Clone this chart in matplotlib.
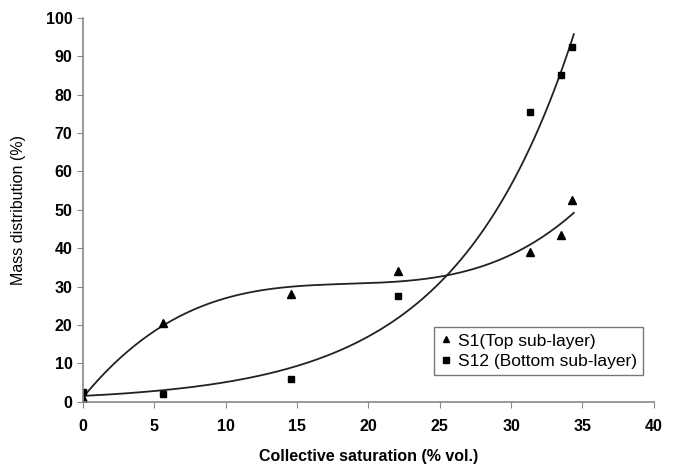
import numpy as np
import matplotlib
matplotlib.use("Agg")
import matplotlib.pyplot as plt

# Collective saturation (% vol.)
sat = [0.0, 5.6, 14.6, 22.1, 31.3, 33.5, 34.3]
s1 = [1.0, 20.5, 28.0, 34.0, 39.0, 43.5, 52.5]      # top sub-layer
s12 = [2.5, 2.0, 6.0, 27.5, 75.5, 85.0, 92.5]       # bottom sub-layer

xticks = [0, 5, 10, 15, 20, 25, 30, 35, 40]
yticks = [0, 10, 20, 30, 40, 50, 60, 70, 80, 90, 100]

plt.rcParams['font.family'] = ['Liberation Sans', 'DejaVu Sans']

fig = plt.figure(figsize=(6.74, 4.70), dpi=100)
ax = fig.add_axes([0.123, 0.145, 0.847, 0.817])

# trendlines: cubic polynomial for S1, exponential for S12
x = np.array(sat)
xs = np.linspace(0, 34.4, 200)
p1 = np.polyfit(x, s1, 3)
b, a = np.polyfit(x, np.log(s12), 1)
ax.plot(xs, np.polyval(p1, xs), color="#222222", lw=1.3)
ax.plot(xs, np.exp(a) * np.exp(b * xs), color="#222222", lw=1.3)

ax.plot(sat, s1, "^", color="black", ms=6, label="S1(Top sub-layer)")
ax.plot(sat, s12, "s", color="black", ms=5, label="S12 (Bottom sub-layer)")

ax.set_xlim(0, 40)
ax.set_ylim(0, 100)
ax.set_xticks(xticks)
ax.set_yticks(yticks)
for lab in ax.get_xticklabels() + ax.get_yticklabels():
    lab.set_fontweight("bold")
ax.tick_params(labelsize=11.5, color="#888888", direction="out", length=4)
ax.tick_params(axis="x", pad=8)
for s in ["top", "right"]:
    ax.spines[s].set_visible(False)
for s in ["left", "bottom"]:
    ax.spines[s].set_color("#888888")
    ax.spines[s].set_linewidth(1.2)

ax.set_xlabel("Collective saturation (% vol.)", fontsize=11.5, fontweight="bold", labelpad=11)
ax.set_ylabel("Mass distribution (%)", fontsize=11.5, labelpad=14)

leg = ax.legend(loc="lower right", bbox_to_anchor=(0.981, 0.07), fontsize=12.5,
                frameon=True, fancybox=False, handlelength=0.6, handletextpad=0.4,
                borderpad=0.35, labelspacing=0.3, markerscale=0.75, borderaxespad=0)
leg.get_frame().set_edgecolor("#555555")
leg.get_frame().set_linewidth(1.0)

fig.savefig("out.png", dpi=100)
